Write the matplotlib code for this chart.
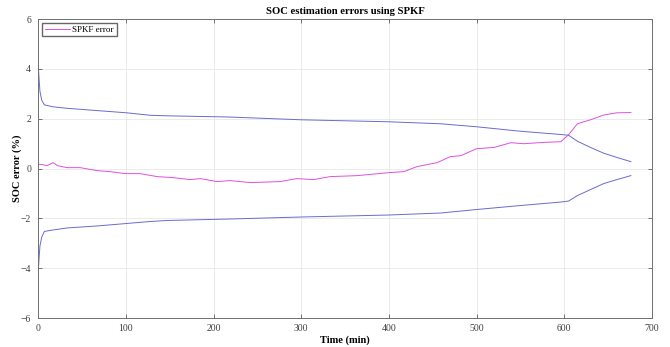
import matplotlib
matplotlib.use("Agg")
import matplotlib.pyplot as plt

# --- data ---
time_bound = [0, 1, 2, 4, 7, 17, 33, 67, 101, 128, 147, 219, 300, 400, 459, 500,
              550, 596, 605, 615, 630, 645, 660, 676]
upper_bound = [4.2, 3.6, 3.1, 2.75, 2.56, 2.48, 2.42, 2.33, 2.24, 2.14, 2.12, 2.07,
               1.96, 1.88, 1.80, 1.68, 1.50, 1.37, 1.34, 1.10, 0.85, 0.62, 0.45, 0.28]
lower_bound = [-4.2, -3.6, -3.1, -2.75, -2.52, -2.46, -2.38, -2.30, -2.20, -2.12, -2.08,
               -2.02, -1.94, -1.86, -1.78, -1.64, -1.48, -1.34, -1.30, -1.08, -0.84,
               -0.60, -0.44, -0.28]

time_err = [0, 5, 10, 17, 22, 33, 48, 67, 82, 99, 116, 136, 154, 173, 185, 204, 219,
            242, 276, 295, 314, 333, 364, 400, 417, 432, 455, 470, 482, 500, 520,
            539, 554, 575, 596, 605, 615, 630, 645, 660, 676]
soc_err = [0.18, 0.16, 0.12, 0.24, 0.12, 0.04, 0.04, -0.08, -0.12, -0.2, -0.2, -0.32,
           -0.36, -0.44, -0.4, -0.52, -0.48, -0.56, -0.52, -0.4, -0.44, -0.32, -0.28,
           -0.16, -0.12, 0.08, 0.24, 0.48, 0.52, 0.8, 0.85, 1.04, 1.0, 1.05, 1.08,
           1.36, 1.8, 1.96, 2.15, 2.24, 2.25]

xticks = [0, 100, 200, 300, 400, 500, 600, 700]
yticks = [-6, -4, -2, 0, 2, 4, 6]

plt.rcParams.update({
    "font.family": "Liberation Serif",
    "font.size": 7,
    "xtick.direction": "in",
    "ytick.direction": "in",
    "xtick.top": True,
    "ytick.right": True,
})

fig = plt.figure(figsize=(6.7, 3.47), dpi=100)
ax = fig.add_axes([0.057, 0.083, 0.916, 0.862])

err_line, = ax.plot(time_err, soc_err, color="#e050e0", lw=0.7, label="SPKF error")
ax.plot(time_bound, upper_bound, color="#6a6ad0", lw=0.7)
ax.plot(time_bound, lower_bound, color="#6a6ad0", lw=0.7)

ax.set_xlim(0, 700)
ax.set_ylim(-6, 6)
ax.set_xticks(xticks)
ax.set_yticks(yticks)
ax.grid(True, color="#e8e8e8", lw=0.6)
for s in ax.spines.values():
    s.set_color("#707070")
    s.set_linewidth(0.7)
ax.tick_params(colors="#404040", length=3, width=0.5)
ax.tick_params(axis="x", pad=4)
ax.tick_params(axis="y", pad=5)

ax.set_title("SOC estimation errors using SPKF", fontsize=7.7, weight="bold", pad=4)
ax.set_xlabel("Time (min)", fontsize=7.5, weight="bold", labelpad=2)
ax.set_ylabel("SOC error (%)", fontsize=7.5, weight="bold", labelpad=-1)

ax.legend(handles=[err_line], loc="upper left", fontsize=6.5, frameon=True,
          fancybox=False, edgecolor="#404040", handlelength=2.8,
          handletextpad=0.3, borderpad=0.3, borderaxespad=0.4)

fig.savefig("out.png", dpi=100)
